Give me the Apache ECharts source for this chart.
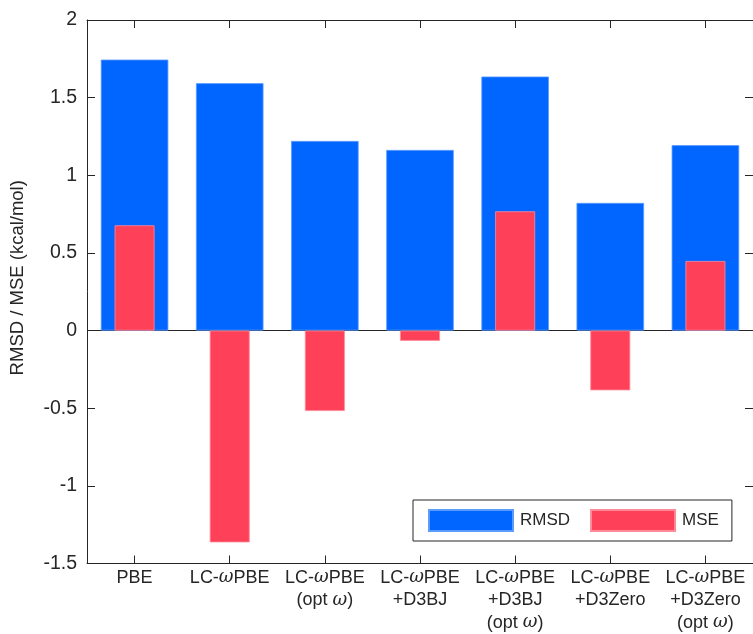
<!DOCTYPE html>
<html>
<head>
<meta charset="utf-8">
<script src="https://cdn.jsdelivr.net/npm/echarts@6/dist/echarts.min.js"></script>
<style>html,body{margin:0;padding:0;background:#fff;}#chart{width:753px;height:634px;}</style>
</head>
<body>
<div id="chart"></div>
<script>
const categories = [
  'PBE',
  'LC-{i|ω}PBE',
  'LC-{i|ω}PBE\n(opt {i|ω})',
  'LC-{i|ω}PBE\n+D3BJ',
  'LC-{i|ω}PBE\n+D3BJ\n(opt {i|ω})',
  'LC-{i|ω}PBE\n+D3Zero',
  'LC-{i|ω}PBE\n+D3Zero\n(opt {i|ω})'
];
const rmsd = [1.745, 1.593, 1.221, 1.163, 1.636, 0.822, 1.194];
const mse = [0.678, -1.364, -0.518, -0.066, 0.768, -0.385, 0.448];
const yTicks = { min: -1.5, max: 2, interval: 0.5 };
const seriesNames = ['RMSD', 'MSE'];

const axisColor = '#262626';
const font = 'Liberation Sans, Arial, sans-serif';

const chart = echarts.init(document.getElementById('chart'));
chart.setOption({
  animation: false,
  backgroundColor: '#ffffff',
  textStyle: { fontFamily: font, color: axisColor },
  grid: { left: 87, top: 20, width: 671, height: 547, containLabel: false },
  legend: {
    data: seriesNames,
    left: 413, top: 500,
    orient: 'horizontal',
    itemWidth: 84, itemHeight: 21, itemGap: 20,
    icon: 'rect',
    padding: [9, 13, 9, 15],
    borderColor: axisColor, borderWidth: 1,
    backgroundColor: '#ffffff',
    textStyle: { fontFamily: font, fontSize: 17, color: axisColor, padding: [0, 0, 0, 2] }
  },
  xAxis: [
    {
      type: 'category', data: categories, position: 'bottom',
      axisLine: { show: true, onZero: false, lineStyle: { color: axisColor, width: 1 } },
      axisTick: { show: true, inside: true, length: 8, alignWithLabel: true, lineStyle: { color: axisColor } },
      axisLabel: {
        show: true, interval: 0, margin: 3, fontSize: 18, lineHeight: 22.5,
        color: axisColor, fontFamily: font,
        rich: { i: { fontStyle: 'italic', fontSize: 18, lineHeight: 22.5, fontFamily: 'DejaVu Serif, serif', color: axisColor } }
      },
      splitLine: { show: false }
    },
    {
      type: 'category', data: categories, position: 'top',
      axisLine: { show: true, onZero: false, lineStyle: { color: axisColor, width: 1 } },
      axisTick: { show: true, inside: true, length: 8, alignWithLabel: true, lineStyle: { color: axisColor } },
      axisLabel: { show: false },
      splitLine: { show: false }
    }
  ],
  yAxis: [
    {
      type: 'value', position: 'left', min: yTicks.min, max: yTicks.max, interval: yTicks.interval,
      name: 'RMSD / MSE (kcal/mol)', nameLocation: 'middle', nameGap: 60,
      nameTextStyle: { fontSize: 18.5, color: axisColor, fontFamily: font, padding: [0, 0, 0, 28] },
      axisLine: { show: true, onZero: false, lineStyle: { color: axisColor, width: 1 } },
      axisTick: { show: true, inside: true, length: 8, lineStyle: { color: axisColor } },
      axisLabel: { fontSize: 19.5, margin: 10, color: axisColor, fontFamily: font },
      splitLine: { show: false }
    },
    {
      type: 'value', position: 'right', min: yTicks.min, max: yTicks.max, interval: yTicks.interval,
      axisLine: { show: true, onZero: false, lineStyle: { color: axisColor, width: 1 } },
      axisTick: { show: true, inside: true, length: 8, lineStyle: { color: axisColor } },
      axisLabel: { show: false },
      splitLine: { show: false }
    }
  ],
  series: [
    {
      name: seriesNames[0], type: 'bar', data: rmsd, xAxisIndex: 0, yAxisIndex: 0,
      barWidth: '71%',
      itemStyle: { color: '#0066ff', borderColor: '#5c9cff', borderWidth: 0.8 },
      markLine: {
        silent: true, symbol: 'none', label: { show: false },
        lineStyle: { color: axisColor, type: 'solid', width: 1 },
        data: [{ yAxis: 0 }],
        z: 1
      }
    },
    {
      name: seriesNames[1], type: 'bar', data: mse, xAxisIndex: 1, yAxisIndex: 0,
      barWidth: '42%',
      itemStyle: { color: '#ff4059', borderColor: '#ff8a99', borderWidth: 0.8 }
    }
  ]
});
</script>
</body>
</html>
